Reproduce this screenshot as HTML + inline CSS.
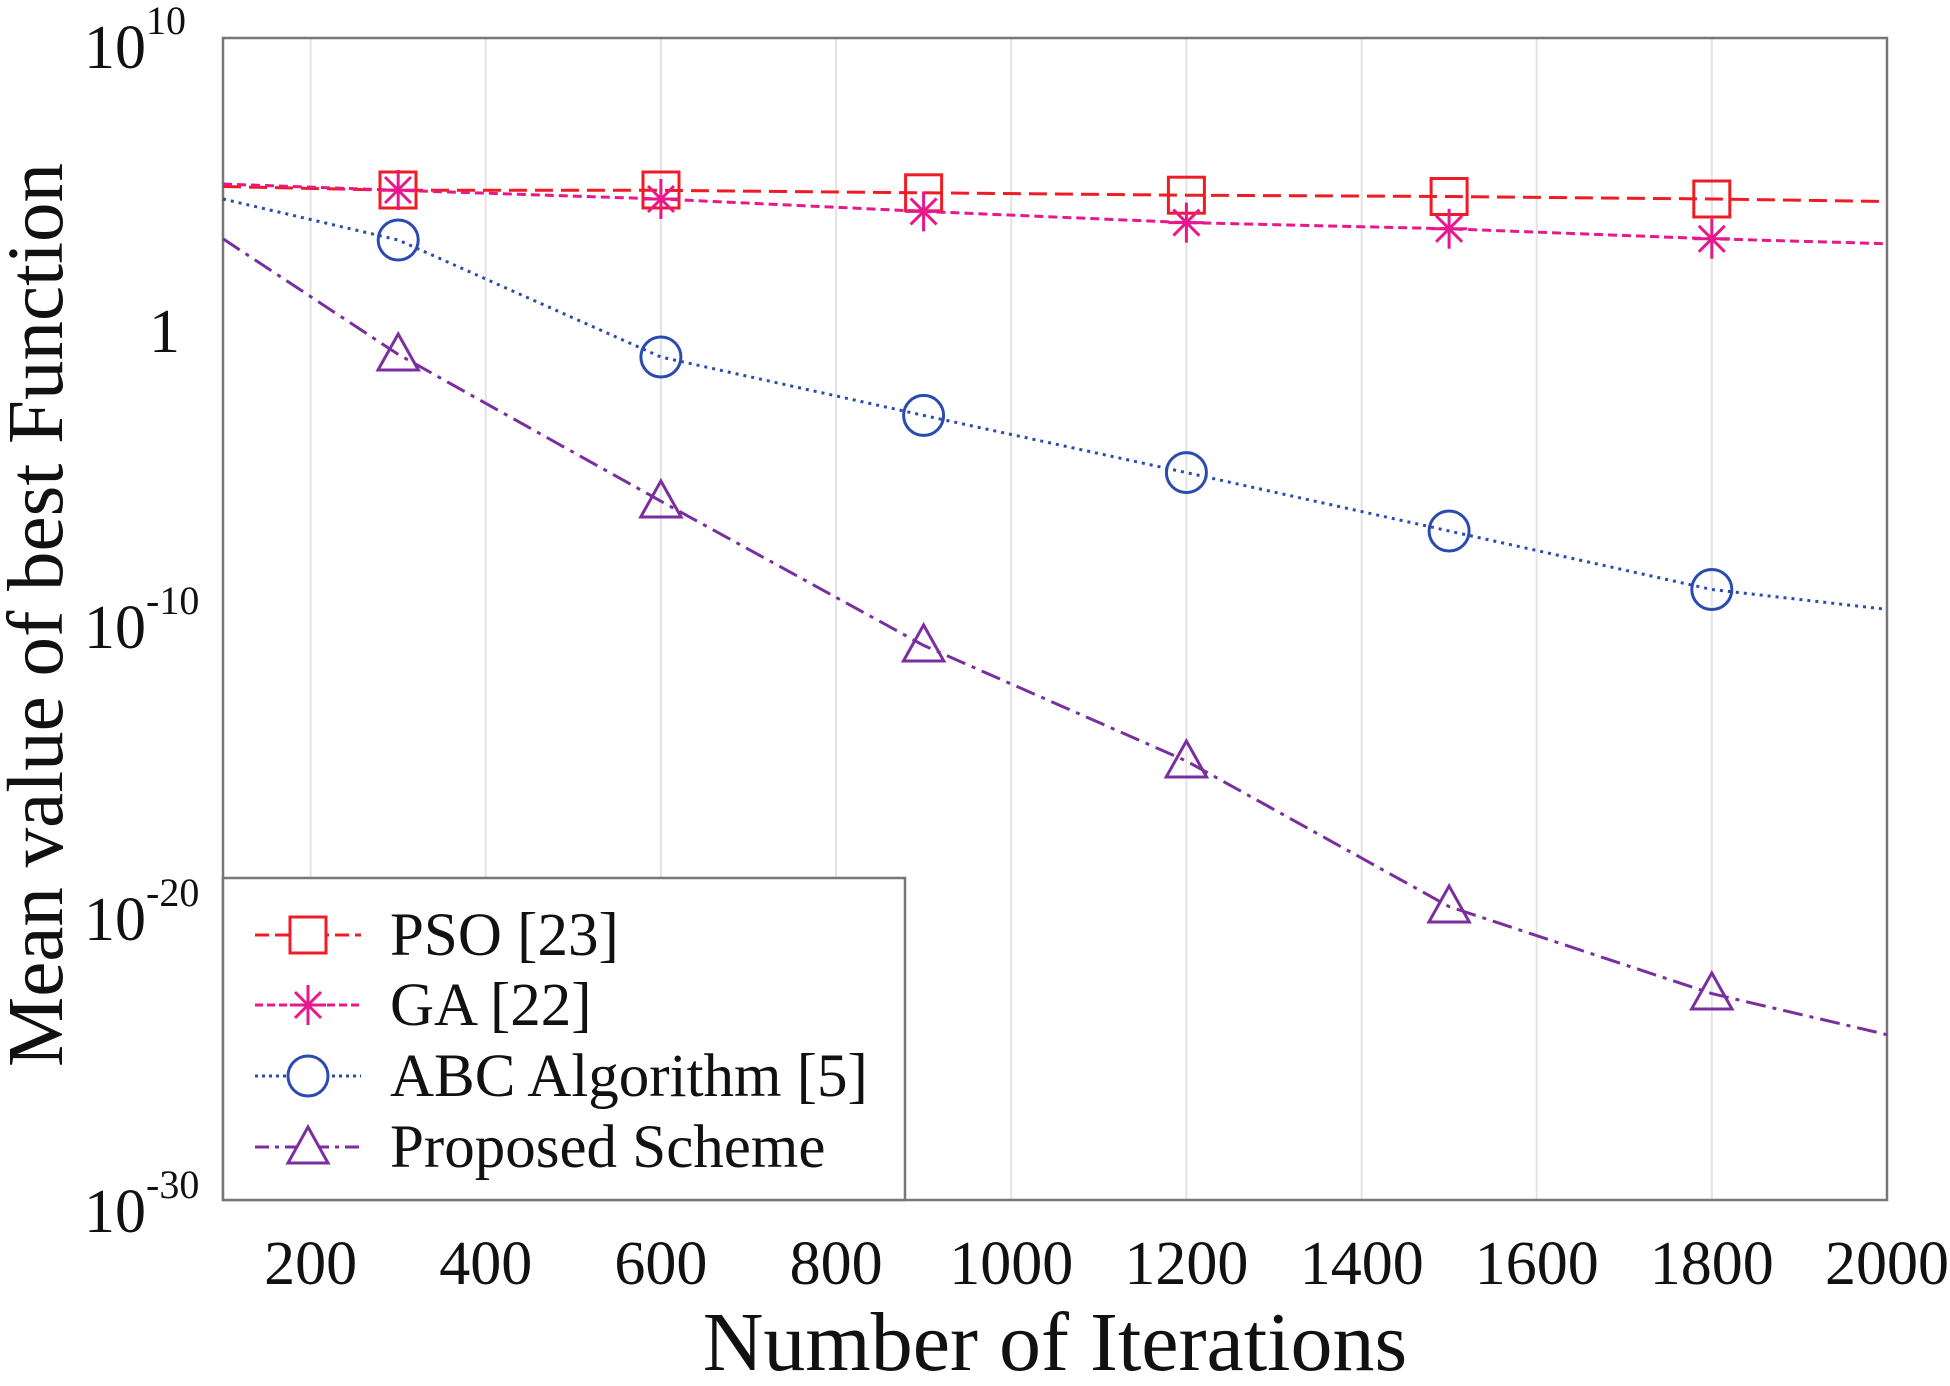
<!DOCTYPE html>
<html><head><meta charset="utf-8"><style>
html,body{margin:0;padding:0;background:#fff;}
svg{display:block;font-family:"Liberation Serif",serif;}
</style></head><body>
<svg width="1950" height="1386" viewBox="0 0 1950 1386" xmlns="http://www.w3.org/2000/svg">
<rect width="1950" height="1386" fill="#fff"/>
<g stroke="#e3e3e3" stroke-width="2">
<line x1="310.6" y1="38" x2="310.6" y2="1200"/><line x1="485.7" y1="38" x2="485.7" y2="1200"/>
<line x1="660.9" y1="38" x2="660.9" y2="1200"/><line x1="836.1" y1="38" x2="836.1" y2="1200"/>
<line x1="1011.2" y1="38" x2="1011.2" y2="1200"/><line x1="1186.4" y1="38" x2="1186.4" y2="1200"/>
<line x1="1361.7" y1="38" x2="1361.7" y2="1200"/><line x1="1536.7" y1="38" x2="1536.7" y2="1200"/>
<line x1="1711.8" y1="38" x2="1711.8" y2="1200"/>
</g>
<rect x="223" y="38" width="1664" height="1162" fill="none" stroke="#777" stroke-width="2.5"/>
<polyline fill="none" stroke="#ee1c25" stroke-width="3" stroke-dasharray="18,8" points="223,186.5 398.2,190.3 660.9,190.3 923.6,192.8 1186.4,195.2 1449.1,196.5 1711.8,199 1887,201.5"/>
<polyline fill="none" stroke="#e8188c" stroke-width="3" stroke-dasharray="9,5" points="223,184 398.2,190.3 660.9,199 923.6,211.4 1186.4,222.6 1449.1,228.8 1711.8,238.8 1887,243.7"/>
<polyline fill="none" stroke="#2a4bb0" stroke-width="3" stroke-dasharray="3,5" points="223,199 398.2,240 660.9,357 923.6,415.4 1186.4,472.6 1449.1,531 1711.8,589.5 1887,609.4"/>
<polyline fill="none" stroke="#7b2f9e" stroke-width="3" stroke-dasharray="20,7,4,7" points="223,238.8 398.2,354.4 660.9,501.2 923.6,645.4 1186.4,761 1449.1,906.6 1711.8,993.6 1887,1034.7"/>
<g fill="none" stroke="#ee1c25" stroke-width="3">
<rect x="380" y="172" width="36" height="36"/><rect x="643" y="172" width="36" height="36"/>
<rect x="905.6" y="174.8" width="36" height="36"/><rect x="1168.4" y="177.2" width="36" height="36"/>
<rect x="1431.1" y="178.5" width="36" height="36"/><rect x="1693.8" y="181" width="36" height="36"/>
</g>
<g stroke="#e8188c" stroke-width="3" fill="none">
<path d="M398.2,170v40M380,190.3h36M385,177l26,26M385,203l26,-26"/>
<path d="M660.9,179v40M643,199h36M648,186l26,26M648,212l26,-26"/>
<path d="M923.6,191.4v40M905.6,211.4h36M910.6,198.4l26,26M910.6,224.4l26,-26"/>
<path d="M1186.4,202.6v40M1168.4,222.6h36M1173.4,209.6l26,26M1173.4,235.6l26,-26"/>
<path d="M1449.1,208.8v40M1431.1,228.8h36M1436.1,215.8l26,26M1436.1,241.8l26,-26"/>
<path d="M1711.8,218.8v40M1693.8,238.8h36M1698.8,225.8l26,26M1698.8,251.8l26,-26"/>
</g>
<g fill="none" stroke="#2a4bb0" stroke-width="3">
<circle cx="398.2" cy="240" r="20"/><circle cx="660.9" cy="357" r="20"/><circle cx="923.6" cy="415.4" r="20"/>
<circle cx="1186.4" cy="472.6" r="20"/><circle cx="1449.1" cy="531" r="20"/><circle cx="1711.8" cy="589.5" r="20"/>
</g>
<g fill="none" stroke="#7b2f9e" stroke-width="3">
<polygon points="398.2,334 378,370 418.4,370"/><polygon points="660.9,481 640.7,517 681.1,517"/>
<polygon points="923.6,625 903.4,661 943.8,661"/><polygon points="1186.4,741 1166.2,777 1206.6,777"/>
<polygon points="1449.1,886 1428.9,922 1469.3,922"/><polygon points="1711.8,973 1691.6,1009 1732,1009"/>
</g>
<rect x="223" y="878" width="682" height="322" fill="#fff" stroke="#777" stroke-width="2.5"/>
<line x1="255" y1="935" x2="361" y2="935" stroke="#ee1c25" stroke-width="3" stroke-dasharray="14,6"/>
<rect x="290" y="917" width="36" height="36" fill="#fff" stroke="#ee1c25" stroke-width="3"/>
<line x1="255" y1="1005" x2="361" y2="1005" stroke="#e8188c" stroke-width="3" stroke-dasharray="8,4"/>
<path d="M308,985v40M290,1005h36M295,992l26,26M295,1018l26,-26" stroke="#e8188c" stroke-width="3"/>
<line x1="255" y1="1076" x2="361" y2="1076" stroke="#2a4bb0" stroke-width="3" stroke-dasharray="3,4"/>
<circle cx="308" cy="1076" r="20" fill="#fff" stroke="#2a4bb0" stroke-width="3"/>
<line x1="255" y1="1147" x2="361" y2="1147" stroke="#7b2f9e" stroke-width="3" stroke-dasharray="14,6,4,6"/>
<polygon points="308,1127 288,1163 328,1163" fill="#fff" stroke="#7b2f9e" stroke-width="3"/>
<g font-size="61" fill="#111">
<text x="390" y="955">PSO [23]</text>
<text x="390" y="1025">GA [22]</text>
<text x="390" y="1096">ABC Algorithm [5]</text>
<text x="390" y="1167">Proposed Scheme</text>
</g>
<g font-size="62" fill="#111" text-anchor="end">
<text x="146" y="68">10</text><text x="146" y="648">10</text><text x="146" y="940">10</text><text x="146" y="1232">10</text>
</g>
<g font-size="40" fill="#111">
<text x="146" y="34">10</text><text x="146" y="614">-10</text><text x="146" y="906">-20</text><text x="146" y="1198">-30</text>
</g>
<text x="180" y="352" font-size="62" fill="#111" text-anchor="end">1</text>
<g font-size="62" fill="#111" text-anchor="middle">
<text x="310.6" y="1284">200</text><text x="485.7" y="1284">400</text><text x="660.9" y="1284">600</text>
<text x="836.1" y="1284">800</text><text x="1011.2" y="1284">1000</text><text x="1186.4" y="1284">1200</text>
<text x="1361.7" y="1284">1400</text><text x="1536.7" y="1284">1600</text><text x="1711.8" y="1284">1800</text>
<text x="1887" y="1284">2000</text>
</g>
<text x="1055" y="1370" font-size="84" fill="#111" text-anchor="middle">Number of Iterations</text>
<text transform="translate(62,615) rotate(-90)" font-size="79" fill="#111" text-anchor="middle">Mean value of best Function</text>
</svg>
</body></html>
